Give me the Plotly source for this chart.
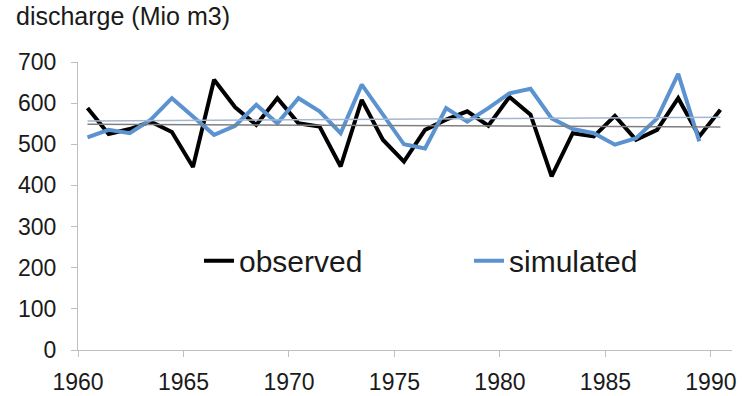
import numpy as np
import plotly.graph_objects as go

years_obs = list(range(1960, 1991))
observed = [588, 525, 537, 555, 530, 445, 657, 590, 547, 612,
            551, 543, 446, 608, 511, 458, 535, 560, 580, 545,
            615, 572, 422, 527, 519, 569, 511, 535, 612, 519, 584]

years_sim = list(range(1960, 1990))
simulated = [517, 535, 527, 560, 612, 567, 523, 545, 596, 551,
             612, 580, 527, 645, 572, 500, 490, 588, 555, 588,
             624, 635, 563, 537, 527, 499, 515, 563, 671, 507]

x_ticks = [1960, 1965, 1970, 1975, 1980, 1985, 1990]
y_ticks = [0, 100, 200, 300, 400, 500, 600, 700]

BLACK = "#000000"
BLUE = "#5b93d1"
FONT = "Liberation Sans, Arial, sans-serif"

# annual values plotted at mid-year
xo = np.array(years_obs) + 0.45
xs = np.array(years_sim) + 0.45

# linear trend lines (as in the spreadsheet chart)
po = np.polyfit(xo, observed, 1)
ps = np.polyfit(xs, simulated, 1)

fig = go.Figure()
fig.add_trace(go.Scatter(x=xo, y=observed, mode="lines", name="observed",
                         line=dict(color=BLACK, width=4)))
fig.add_trace(go.Scatter(x=xs, y=simulated, mode="lines", name="simulated",
                         line=dict(color=BLUE, width=4)))
fig.add_trace(go.Scatter(x=xo, y=np.polyval(po, xo), mode="lines",
                         line=dict(color="#7f7f7f", width=1.5), showlegend=False))
fig.add_trace(go.Scatter(x=xo, y=np.polyval(ps, xo), mode="lines",
                         line=dict(color="#a3b6cf", width=1.5), showlegend=False))

fig.update_layout(
    width=747, height=396,
    margin=dict(l=78, r=8, t=62, b=46),
    paper_bgcolor="white", plot_bgcolor="white",
    font=dict(family=FONT, size=23, color="#1a1a1a"),
    showlegend=True,
    legend=dict(orientation="h", x=0.185, y=0.31, xanchor="left", yanchor="middle",
                font=dict(size=30, color="#1a1a1a"), itemwidth=30,
                entrywidth=225, bgcolor="rgba(0,0,0,0)", traceorder="normal"),
    annotations=[dict(text="discharge (Mio m3)", xref="paper", yref="paper",
                      x=-0.098, y=1.0, xanchor="left", yanchor="bottom", yshift=30,
                      showarrow=False, font=dict(size=25, color="#1a1a1a"))],
)
fig.update_xaxes(range=[1960, 1991], tickvals=x_ticks, showgrid=False,
                 zeroline=False, showline=True, linecolor="#bfbfbf", linewidth=1.2,
                 ticks="outside", ticklen=6, tickcolor="#bfbfbf", automargin=False,
                 ticklabelstandoff=5, tickfont=dict(size=23))
fig.update_yaxes(range=[0, 700], tickvals=y_ticks, showgrid=False,
                 zeroline=False, showline=True, linecolor="#bfbfbf", linewidth=1.2,
                 ticks="outside", ticklen=6, tickcolor="#bfbfbf", automargin=False,
                 ticklabelstandoff=10, tickfont=dict(size=23))

fig.write_html("out.html")
